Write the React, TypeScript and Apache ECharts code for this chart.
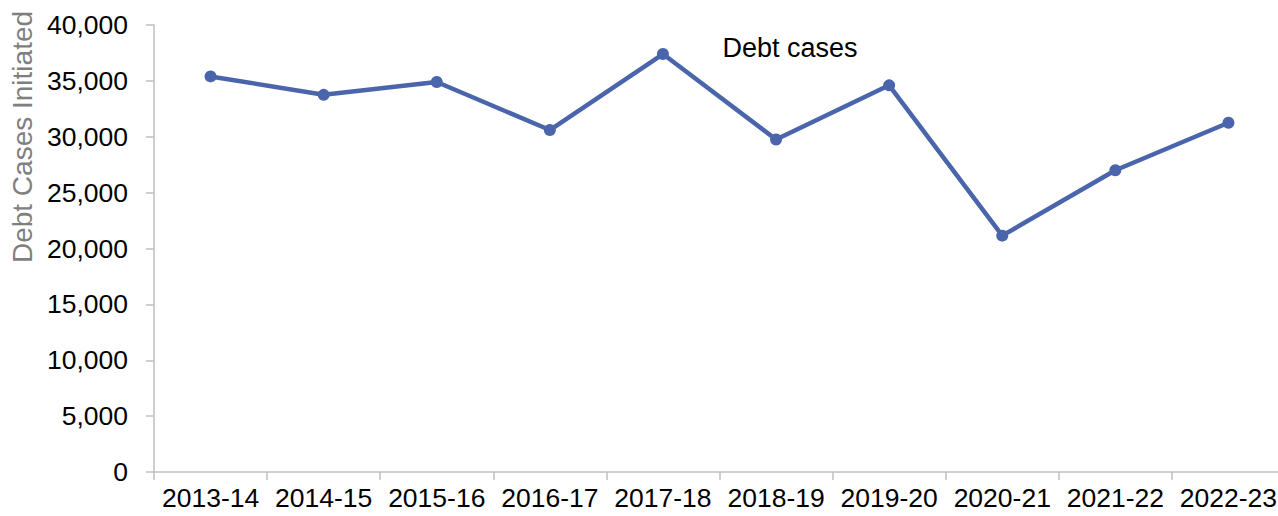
import React, { useEffect, useRef } from "react";
import * as echarts from "echarts";

const categories = ["2013-14", "2014-15", "2015-16", "2016-17", "2017-18", "2018-19", "2019-20", "2020-21", "2021-22", "2022-23"];
const debtCases = [35400, 33750, 34900, 30600, 37400, 29750, 34600, 21150, 27000, 31250];
const seriesName = "Debt cases";
const yAxisTitle = "Debt Cases Initiated";

const FONT = "'Liberation Sans', Arial, sans-serif";
const LINE = "#4a65ab";
const AXIS = "#bfbfbf";

export default function App() {
  const ref = useRef<HTMLDivElement>(null);
  useEffect(() => {
    if (!ref.current) return;
    const chart = echarts.init(ref.current, null, { renderer: "svg" });
    chart.setOption({
      animation: false,
      grid: { left: 154, top: 25, right: 0, bottom: 44, containLabel: false },
      xAxis: {
        type: "category",
        data: categories,
        boundaryGap: true,
        axisLine: { show: true, lineStyle: { color: AXIS, width: 1.5 } },
        axisTick: { show: true, length: 8, alignWithLabel: false, lineStyle: { color: AXIS, width: 1.5 } },
        axisLabel: { color: "#000", fontSize: 26.5, fontFamily: FONT, margin: 12, interval: 0 },
        splitLine: { show: false },
      },
      yAxis: {
        type: "value",
        min: 0,
        max: 40000,
        interval: 5000,
        axisLine: { show: true, lineStyle: { color: AXIS, width: 1.5 } },
        axisTick: { show: true, length: 8, lineStyle: { color: AXIS, width: 1.5 } },
        axisLabel: {
          color: "#000",
          fontSize: 26.5,
          fontFamily: FONT,
          margin: 26,
          formatter: (v: number) => v.toLocaleString("en-US"),
        },
        splitLine: { show: false },
      },
      graphic: [
        {
          type: "text",
          x: 22,
          y: 137,
          rotation: Math.PI / 2,
          style: {
            text: yAxisTitle,
            fill: "#7f7f7f",
            font: `28px ${FONT}`,
            align: "center",
            verticalAlign: "middle",
          },
        },
        {
          type: "text",
          x: 790,
          y: 48,
          style: {
            text: seriesName,
            fill: "#000",
            font: `27px ${FONT}`,
            align: "center",
            verticalAlign: "middle",
          },
        },
      ],
      series: [
        {
          name: seriesName,
          type: "line",
          data: debtCases,
          symbol: "circle",
          symbolSize: 12,
          lineStyle: { color: LINE, width: 4.5 },
          itemStyle: { color: LINE },
        },
      ],
    });
    return () => chart.dispose();
  }, []);
  return (
    <div style={{ position: "absolute", left: 0, top: 0, width: 1278, height: 516, overflow: "hidden" }}>
      <div ref={ref} style={{ width: 1285, height: 516 }} />
    </div>
  );
}
